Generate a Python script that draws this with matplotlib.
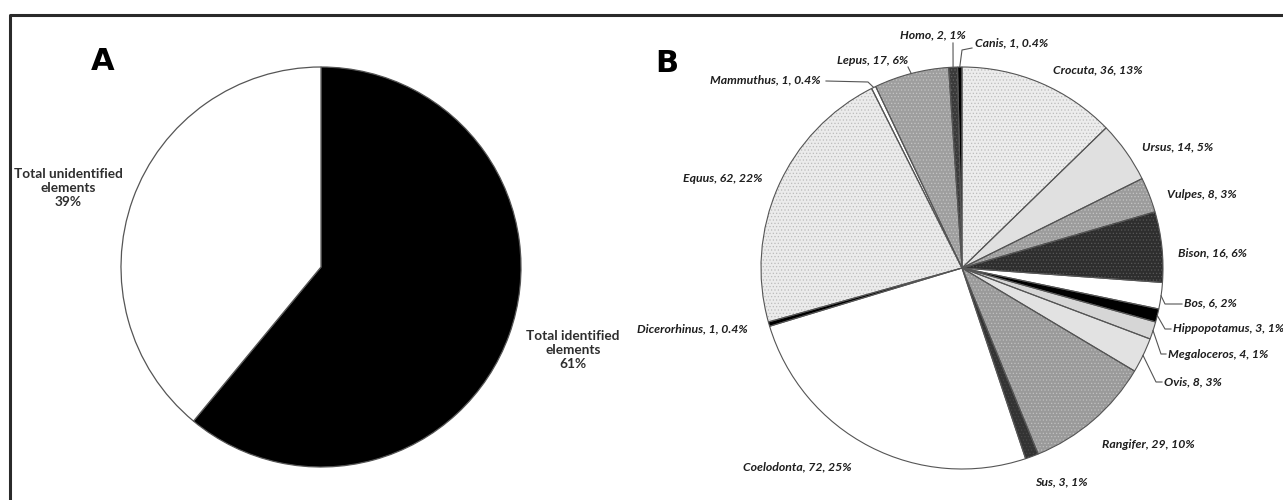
import numpy as np
import matplotlib
matplotlib.use('Agg')
import matplotlib.pyplot as plt
from matplotlib.lines import Line2D

# panel A: identified vs unidentified elements (%)
a_labels = ['Total identified\nelements\n61%', 'Total unidentified\nelements\n39%']
a_values = [61, 39]

# panel B: NISP per taxon, clockwise from 12 o'clock
taxa = ['Crocuta', 'Ursus', 'Vulpes', 'Bison', 'Bos', 'Hippopotamus', 'Megaloceros',
        'Ovis', 'Rangifer', 'Sus', 'Coelodonta', 'Dicerorhinus', 'Equus',
        'Mammuthus', 'Lepus', 'Homo', 'Canis']
counts = [36, 14, 8, 16, 6, 3, 4, 8, 29, 3, 72, 1, 62, 1, 17, 2, 1]

face = ['#ececec', '#e0e0e0', '#9c9c9c', '#2e2e2e', '#ffffff', '#000000', '#d6d6d6',
        '#e2e2e2', '#9a9a9a', '#333333', '#ffffff', '#000000', '#ebebeb',
        '#ffffff', '#9e9e9e', '#3a3a3a', '#000000']
dots = ['#bcbcbc', None, '#c4c4c4', '#575757', None, None, None,
        None, '#c0c0c0', '#4a4a4a', None, None, '#bcbcbc',
        None, '#c4c4c4', '#666666', None]

W, H = 1283, 500
fig = plt.figure(figsize=(W / 100, H / 100), dpi=100)
plt.rcParams['hatch.linewidth'] = 0.5


def fig_xy(x, y):
    return x / W, 1 - y / H


def pie_axes(cx, cy, r):
    return fig.add_axes([(cx - r) / W, (H - cy - r) / H, 2 * r / W, 2 * r / H])


# frame around the figure (left and top only)
fig.add_artist(Line2D([10 / W, 10 / W, 1], [0, 1 - 15 / H, 1 - 15 / H],
                      transform=fig.transFigure, color='#2a2a2a', lw=2.2))

# ---- A ----
axA = pie_axes(321, 267, 200)
axA.pie(a_values, startangle=90, counterclock=False, colors=['#000000', '#ffffff'],
        wedgeprops=dict(edgecolor='#555555', linewidth=0.9))
axA.set_xlim(-1, 1)
axA.set_ylim(-1, 1)
a_text = dict(ha='center', va='center', fontsize=9.8, fontweight='bold',
              color='#2e2e2e', family='Lato', linespacing=1.25)
fig.text(*fig_xy(573, 350), a_labels[0], **a_text)
fig.text(*fig_xy(68, 188), a_labels[1], **a_text)
fig.text(*fig_xy(103, 62), 'A', ha='center', va='center', fontsize=22,
         fontweight='bold', family='DejaVu Sans')

# ---- B ----
bcx, bcy, br = 962, 268, 201
axB = pie_axes(bcx, bcy, br)
wedges, _ = axB.pie(counts, startangle=90, counterclock=False, colors=face,
                    wedgeprops=dict(linewidth=0))
for w, d in zip(wedges, dots):
    if d is not None:
        w.set_hatch('.....')
        w.set_edgecolor(d)
        w.set_linewidth(0)
# outlines on top
axB.pie(counts, startangle=90, counterclock=False, colors=['none'] * len(counts),
        wedgeprops=dict(edgecolor='#555555', linewidth=0.8))
axB.set_xlim(-1, 1)
axB.set_ylim(-1, 1)
fig.text(*fig_xy(667, 64), 'B', ha='center', va='center', fontsize=22,
         fontweight='bold', family='DejaVu Sans')

total = sum(counts)


def pct_text(c):
    p = c / total * 100
    return f'{p:.1f}%' if p < 0.5 else f'{p:.0f}%'


def rim(w):
    t = np.deg2rad((w.theta1 + w.theta2) / 2)
    return bcx + br * np.cos(t), bcy - br * np.sin(t)


# label anchor (left x, centre y) in pixels and leader elbows
label_pos = {
    'Crocuta': (1053, 70), 'Ursus': (1142, 147), 'Vulpes': (1167, 195),
    'Bison': (1178, 253), 'Bos': (1184, 303), 'Hippopotamus': (1173, 328),
    'Megaloceros': (1168, 354), 'Ovis': (1164, 382), 'Rangifer': (1102, 445),
    'Sus': (1035, 482), 'Coelodonta': (743, 467), 'Dicerorhinus': (637, 329),
    'Equus': (683, 178), 'Mammuthus': (710, 80), 'Lepus': (837, 60),
    'Homo': (900, 35), 'Canis': (975, 43),
}
leaders = {
    'Bos': [(1165, 304), (1182, 304)],
    'Hippopotamus': [(1165, 329), (1171, 329)],
    'Megaloceros': [(1161, 354), (1166, 354)],
    'Ovis': [(1156, 382), (1162, 382)],
    'Mammuthus': [(868, 82), (826, 81)],
    'Lepus': [(908, 67)],
    'Homo': [(953, 43)],
    'Canis': [(962, 50), (972, 48)],
}

for w, name, c in zip(wedges, taxa, counts):
    x, y = label_pos[name]
    fig.text(*fig_xy(x, y), f'{name}, {c}, {pct_text(c)}', ha='left', va='center',
             fontsize=8.8, fontweight='bold', fontstyle='italic', family='Lato',
             color='#1e1e1e')
    if name in leaders:
        pts = [rim(w)] + leaders[name]
        xs = [p[0] / W for p in pts]
        ys = [1 - p[1] / H for p in pts]
        fig.add_artist(Line2D(xs, ys, transform=fig.transFigure, color='#555555', lw=0.8))

fig.savefig('out.png', dpi=100, facecolor='white')
